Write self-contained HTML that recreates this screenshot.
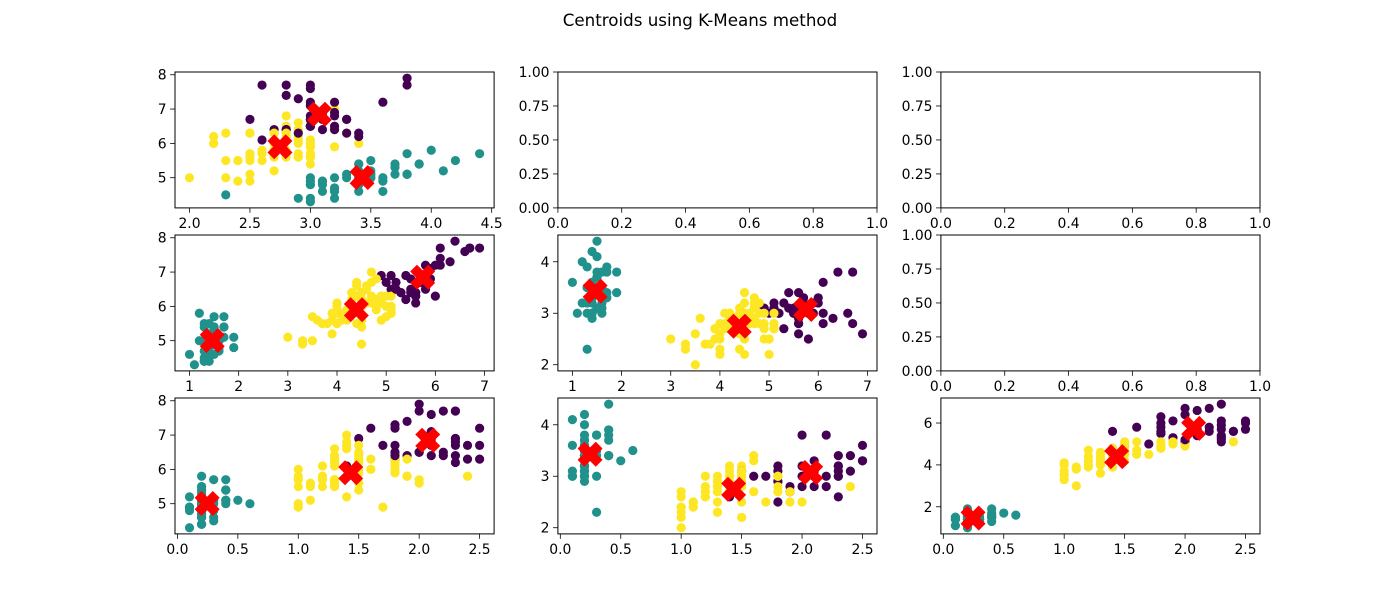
<!DOCTYPE html>
<html><head><meta charset="utf-8">
<style>
html,body{margin:0;padding:0;background:#fff;}
svg{display:block;font-family:"DejaVu Sans","Liberation Sans",sans-serif;}
</style></head>
<body>
<svg id="fig" width="1400" height="600" viewBox="0 0 1400 600" xmlns="http://www.w3.org/2000/svg">
<rect width="1400" height="600" fill="#fff"/>
<text x="700" y="26" text-anchor="middle" font-size="16.7" fill="#000">Centroids using K-Means method</text>
</svg>
<script>
const sepalLength=[5.1,4.9,4.7,4.6,5.0,5.4,4.6,5.0,4.4,4.9,5.4,4.8,4.8,4.3,5.8,5.7,5.4,5.1,5.7,5.1,5.4,5.1,4.6,5.1,4.8,5.0,5.0,5.2,5.2,4.7,4.8,5.4,5.2,5.5,4.9,5.0,5.5,4.9,4.4,5.1,5.0,4.5,4.4,5.0,5.1,4.8,5.1,4.6,5.3,5.0,
7.0,6.4,6.9,5.5,6.5,5.7,6.3,4.9,6.6,5.2,5.0,5.9,6.0,6.1,5.6,6.7,5.6,5.8,6.2,5.6,5.9,6.1,6.3,6.1,6.4,6.6,6.8,6.7,6.0,5.7,5.5,5.5,5.8,6.0,5.4,6.0,6.7,6.3,5.6,5.5,5.5,6.1,5.8,5.0,5.6,5.7,5.7,6.2,5.1,5.7,
6.3,5.8,7.1,6.3,6.5,7.6,4.9,7.3,6.7,7.2,6.5,6.4,6.8,5.7,5.8,6.4,6.5,7.7,7.7,6.0,6.9,5.6,7.7,6.3,6.7,7.2,6.2,6.1,6.4,7.2,7.4,7.9,6.4,6.3,6.1,7.7,6.3,6.4,6.0,6.9,6.7,6.9,5.8,6.8,6.7,6.7,6.3,6.5,6.2,5.9];
const sepalWidth=[3.5,3.0,3.2,3.1,3.6,3.9,3.4,3.4,2.9,3.1,3.7,3.4,3.0,3.0,4.0,4.4,3.9,3.5,3.8,3.8,3.4,3.7,3.6,3.3,3.4,3.0,3.4,3.5,3.4,3.2,3.1,3.4,4.1,4.2,3.1,3.2,3.5,3.6,3.0,3.4,3.5,2.3,3.2,3.5,3.8,3.0,3.8,3.2,3.7,3.3,
3.2,3.2,3.1,2.3,2.8,2.8,3.3,2.4,2.9,2.7,2.0,3.0,2.2,2.9,2.9,3.1,3.0,2.7,2.2,2.5,3.2,2.8,2.5,2.8,2.9,3.0,2.8,3.0,2.9,2.6,2.4,2.4,2.7,2.7,3.0,3.4,3.1,2.3,3.0,2.5,2.6,3.0,2.6,2.3,2.7,3.0,2.9,2.9,2.5,2.8,
3.3,2.7,3.0,2.9,3.0,3.0,2.5,2.9,2.5,3.6,3.2,2.7,3.0,2.5,2.8,3.2,3.0,3.8,2.6,2.2,3.2,2.8,2.8,2.7,3.3,3.2,2.8,3.0,2.8,3.0,2.8,3.8,2.8,2.8,2.6,3.0,3.4,3.1,3.0,3.1,3.1,3.1,2.7,3.2,3.3,3.0,2.5,3.0,3.4,3.0];
const petalLength=[1.4,1.4,1.3,1.5,1.4,1.7,1.4,1.5,1.4,1.5,1.5,1.6,1.4,1.1,1.2,1.5,1.3,1.4,1.7,1.5,1.7,1.5,1.0,1.7,1.9,1.6,1.6,1.5,1.4,1.6,1.6,1.5,1.5,1.4,1.5,1.2,1.3,1.4,1.3,1.5,1.3,1.3,1.3,1.6,1.9,1.4,1.6,1.4,1.5,1.4,
4.7,4.5,4.9,4.0,4.6,4.5,4.7,3.3,4.6,3.9,3.5,4.2,4.0,4.7,3.6,4.4,4.5,4.1,4.5,3.9,4.8,4.0,4.9,4.7,4.3,4.4,4.8,5.0,4.5,3.5,3.8,3.7,3.9,5.1,4.5,4.5,4.7,4.4,4.1,4.0,4.4,4.6,4.0,3.3,4.2,4.2,4.2,4.3,3.0,4.1,
6.0,5.1,5.9,5.6,5.8,6.6,4.5,6.3,5.8,6.1,5.1,5.3,5.5,5.0,5.1,5.3,5.5,6.7,6.9,5.0,5.7,4.9,6.7,4.9,5.7,6.0,4.8,4.9,5.6,5.8,6.1,6.4,5.6,5.1,5.6,6.1,5.6,5.5,4.8,5.4,5.6,5.1,5.1,5.9,5.7,5.2,5.0,5.2,5.4,5.1];
const petalWidth=[0.2,0.2,0.2,0.2,0.2,0.4,0.3,0.2,0.2,0.1,0.2,0.2,0.1,0.1,0.2,0.4,0.4,0.3,0.3,0.3,0.2,0.4,0.2,0.5,0.2,0.2,0.4,0.2,0.2,0.2,0.2,0.4,0.1,0.2,0.2,0.2,0.2,0.1,0.2,0.2,0.3,0.3,0.2,0.6,0.4,0.3,0.2,0.2,0.2,0.2,
1.4,1.5,1.5,1.3,1.5,1.3,1.6,1.0,1.3,1.4,1.0,1.5,1.0,1.4,1.3,1.4,1.5,1.0,1.5,1.1,1.8,1.3,1.5,1.2,1.3,1.4,1.4,1.7,1.5,1.0,1.1,1.0,1.2,1.6,1.5,1.6,1.5,1.3,1.3,1.3,1.2,1.4,1.2,1.0,1.3,1.2,1.3,1.3,1.1,1.3,
2.5,1.9,2.1,1.8,2.2,2.1,1.7,1.8,1.8,2.5,2.0,1.9,2.1,2.0,2.4,2.3,1.8,2.2,2.3,1.5,2.3,2.0,2.0,1.8,2.1,1.8,1.8,1.8,2.1,1.6,1.9,2.0,2.2,1.5,1.4,2.3,2.4,1.8,1.8,2.1,2.4,2.3,1.9,2.3,2.5,2.3,1.9,2.0,2.3,1.8];
const clusterLabels=[1,1,1,1,1,1,1,1,1,1,1,1,1,1,1,1,1,1,1,1,1,1,1,1,1,1,1,1,1,1,1,1,1,1,1,1,1,1,1,1,1,1,1,1,1,1,1,1,1,1,
2,2,0,2,2,2,2,2,2,2,2,2,2,2,2,2,2,2,2,2,2,2,2,2,2,2,2,0,2,2,2,2,2,2,2,2,2,2,2,2,2,2,2,2,2,2,2,2,2,2,
0,2,0,0,0,0,2,0,0,0,0,0,0,2,2,0,0,0,0,2,0,2,0,2,0,0,2,2,0,0,0,0,0,2,0,0,0,0,2,0,0,0,2,0,0,0,2,0,0,2];
const centroidSepalLength=[6.85,5.006,5.9016];
const centroidSepalWidth=[3.0737,3.428,2.7484];
const centroidPetalLength=[5.742,1.462,4.3935];
const centroidPetalWidth=[2.0711,0.246,1.4339];
const clusterColors=["#440154","#21918c","#fde725"];
const ticksSL=[5,6,7,8], ticksSW=[2,3,4], ticksPL=[1,2,3,4,5,6,7], ticksPL2=[2,4,6];
const ticksSWx=[2.0,2.5,3.0,3.5,4.0,4.5], ticksPW=[0.0,0.5,1.0,1.5,2.0,2.5];
const emptyX=[0,0.2,0.4,0.6,0.8,1.0], emptyY=[0,0.25,0.5,0.75,1.0];

const NS="http://www.w3.org/2000/svg";
const svg=document.getElementById('fig');
const colL=[175,557.9,940.9], W=319.1, rowT=[72,235,398], H=135.9;
function mk(tag,attrs,parent){const e=document.createElementNS(NS,tag);for(const k in attrs)e.setAttribute(k,attrs[k]);(parent||svg).appendChild(e);return e;}
const vars={SL:[sepalLength,centroidSepalLength],SW:[sepalWidth,centroidSepalWidth],PL:[petalLength,centroidPetalLength],PW:[petalWidth,centroidPetalWidth]};
const panels=[
 {r:0,c:0,x:'SW',y:'SL',xt:ticksSWx,yt:ticksSL,xd:1,yd:0},
 {r:0,c:1,empty:true},{r:0,c:2,empty:true},
 {r:1,c:0,x:'PL',y:'SL',xt:ticksPL,yt:ticksSL,xd:0,yd:0},
 {r:1,c:1,x:'PL',y:'SW',xt:ticksPL,yt:ticksSW,xd:0,yd:0},
 {r:1,c:2,empty:true},
 {r:2,c:0,x:'PW',y:'SL',xt:ticksPW,yt:ticksSL,xd:1,yd:0},
 {r:2,c:1,x:'PW',y:'SW',xt:ticksPW,yt:ticksSW,xd:1,yd:0},
 {r:2,c:2,x:'PW',y:'PL',xt:ticksPW,yt:ticksPL2,xd:1,yd:0}];
function lim(a){const mn=Math.min(...a),mx=Math.max(...a),m=(mx-mn)*0.05;return [mn-m,mx+m];}
function xMarker(cx,cy,h,t){const p=[[0,t],[h-t,h],[h,h-t],[t,0],[h,-(h-t)],[h-t,-h],[0,-t],[-(h-t),-h],[-h,-(h-t)],[-t,0],[-h,h-t],[-(h-t),h]];return p.map(q=>(cx+q[0]).toFixed(2)+','+(cy+q[1]).toFixed(2)).join(' ');}
panels.forEach(p=>{
  const L=colL[p.c],T=rowT[p.r],R=L+W,B=T+H;
  const g=mk('g',{});
  
  
  let xl,yl,xt,yt,xd,yd;
  if(p.empty){xl=[0,1];yl=[0,1];xt=emptyX;yt=emptyY;xd=1;yd=2;}
  else{xl=lim(vars[p.x][0]);yl=lim(vars[p.y][0]);xt=p.xt;yt=p.yt;xd=p.xd;yd=p.yd;}
  const sx=v=>L+(v-xl[0])/(xl[1]-xl[0])*W, sy=v=>B-(v-yl[0])/(yl[1]-yl[0])*H;
  if(!p.empty){
    const X=vars[p.x][0],Y=vars[p.y][0];
    X.forEach((v,i)=>{const c=mk('circle',{cx:sx(v).toFixed(2),cy:sy(Y[i]).toFixed(2),r:4.6,fill:clusterColors[clusterLabels[i]]},g);
      
      });
    const CX=vars[p.x][1],CY=vars[p.y][1];
    CX.forEach((v,i)=>{const m=mk('polygon',{points:xMarker(sx(v),sy(CY[i]),12.5,6.8),fill:'#ff0000'},g);
      
      });
  }
  const fr=mk('rect',{x:L,y:T,width:W,height:H,fill:'none',stroke:'#000','stroke-width':1},g);
  
  
  xt.forEach(v=>{const x=sx(v);mk('line',{x1:x,y1:B,x2:x,y2:B+4.9,stroke:'#000','stroke-width':0.8},g);
    const t=mk('text',{x:x,y:B+20.3,'text-anchor':'middle','font-size':13.9,fill:'#000'},g);t.textContent=v.toFixed(xd);
    
    });
  yt.forEach(v=>{const y=sy(v);mk('line',{x1:L-4.9,y1:y,x2:L,y2:y,stroke:'#000','stroke-width':0.8},g);
    const t=mk('text',{x:L-8.4,y:y+5,'text-anchor':'end','font-size':13.9,fill:'#000'},g);t.textContent=v.toFixed(yd);
    
    });
});
</script>
</body></html>
